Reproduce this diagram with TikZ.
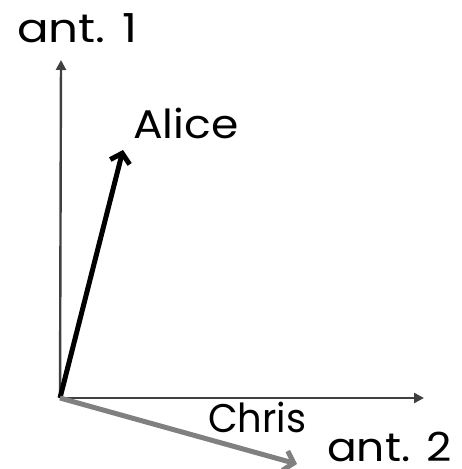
\documentclass[tikz,border=0pt]{standalone}
\usepackage{fontspec}
\setmainfont{Poppins}
\usetikzlibrary{arrows.meta}
\definecolor{axisgray}{HTML}{404040}
\definecolor{chrisgray}{HTML}{808080}
\tikzset{
  axis/.style={draw=axisgray, line width=2.4pt, -{Triangle[length=10pt,width=10pt]}},
  vec/.style={line width=5pt, -{Straight Barb[length=9pt,width=20pt,line width=5pt]}},
  lbl/.style={inner sep=0pt, anchor=base west, font=\fontsize{40}{48}\selectfont, text=black},
}
\newcommand{\wtxt}[2]{\scalebox{#1}[1]{#2}}
\begin{document}
\begin{tikzpicture}[x=1pt,y=-1pt]
\useasboundingbox (0,0) rectangle (462,469);
\coordinate (O) at (60,398);
\coordinate (Y) at (61,60);
\coordinate (X) at (424,398);
\coordinate (A) at (123,150);
\coordinate (C) at (297,464);
\draw[axis] (O) -- (Y);
\draw[axis] (O) -- (X);
\draw[vec, draw=black] (O) -- (A);
\draw[vec, draw=chrisgray] (O) -- (C);
\node[lbl] (lab1) at (17,42) {\wtxt{1.17}{ant. 1}};
\node[lbl] (lalice) at (133,138) {\wtxt{1.1}{Alice}};
\node[lbl] (lchris) at (208,432) {\wtxt{0.96}{Chris}};
\node[lbl] (lab2) at (327,461) {\wtxt{1.1}{ant. 2}};
\end{tikzpicture}
\end{document}
